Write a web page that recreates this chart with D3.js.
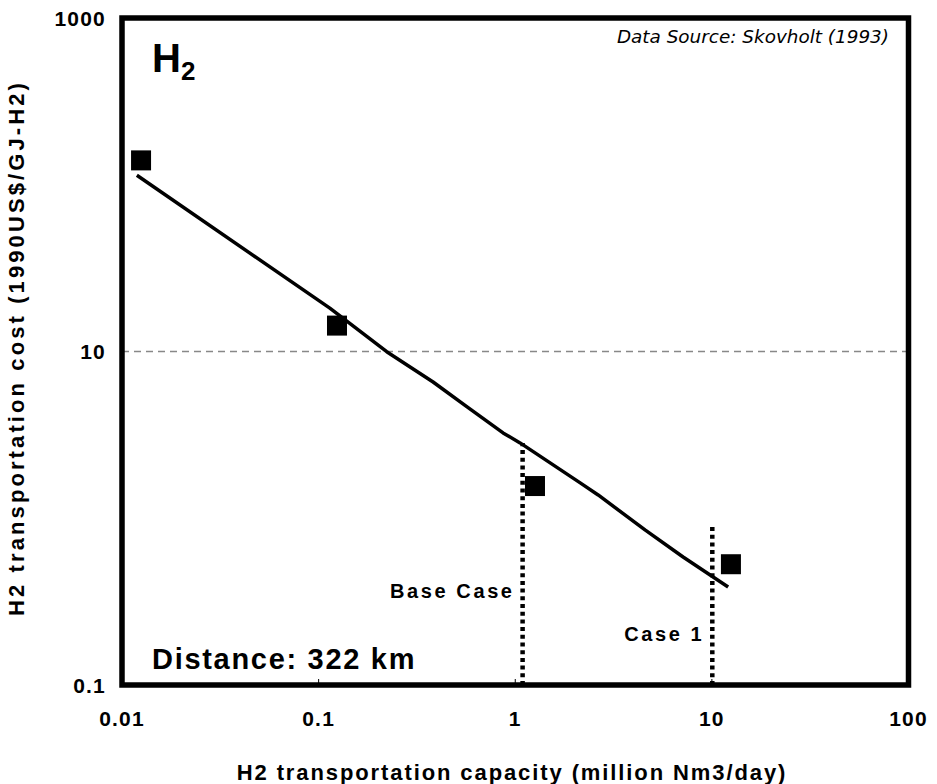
<!DOCTYPE html>
<html>
<head>
<meta charset="utf-8">
<script src="https://cdn.jsdelivr.net/npm/d3@7"></script>
<style>
  html, body { margin: 0; padding: 0; background: #fff; }
  svg text { font-family: "Liberation Sans", Arial, sans-serif; }
</style>
</head>
<body>
<svg id="chart" width="937" height="784"></svg>
<script>
// ── Data ────────────────────────────────────────────────────────────────
const pointCapacity = [0.0125, 0.124, 1.26, 12.5];      // million Nm3/day
const pointCost     = [140, 14.3, 1.56, 0.53];           // 1990US$/GJ-H2

const trendCapacity = [0.0119, 0.114, 0.222, 0.382, 0.569, 0.867, 1.058, 2.14, 2.64, 4.57, 7.14, 12.1];
const trendCost     = [114, 18.2, 9.97, 6.56, 4.65, 3.25, 2.83, 1.63, 1.38, 0.851, 0.586, 0.387];

const xTicks = [0.01, 0.1, 1, 10, 100];
const xTickLabels = ['0.01', '0.1', '1', '10', '100'];
const yTicks = [0.1, 10, 1000];
const yTickLabels = ['0.1', '10', '1000'];

const caseNames    = ['Base Case', 'Case 1'];
const caseCapacity = [1.09, 10.05];
const caseTopCost  = [2.83, 0.92];

// ── Layout ──────────────────────────────────────────────────────────────
const svg = d3.select('#chart');
const plot = { left: 122, right: 908.5, top: 18, bottom: 685 };

const x = d3.scaleLog().domain([0.01, 100]).range([plot.left, plot.right]);
const y = d3.scaleLog().domain([0.1, 1000]).range([plot.bottom, plot.top]);

// gridline at 10
svg.append('line')
  .attr('x1', plot.left).attr('x2', plot.right)
  .attr('y1', y(10)).attr('y2', y(10))
  .attr('stroke', '#888').attr('stroke-width', 1.3)
  .attr('stroke-dasharray', '7,5');

// small inside ticks
svg.append('g').selectAll('line')
  .data(xTicks.slice(1, -1))
  .join('line')
  .attr('x1', d => x(d)).attr('x2', d => x(d))
  .attr('y1', plot.bottom).attr('y2', plot.bottom - 6)
  .attr('stroke', '#000').attr('stroke-width', 1);

// case markers (dotted verticals)
svg.append('g').selectAll('line')
  .data(caseCapacity)
  .join('line')
  .attr('x1', d => x(d)).attr('x2', d => x(d))
  .attr('y1', plot.bottom)
  .attr('y2', (d, i) => y(caseTopCost[i]))
  .attr('stroke', '#000').attr('stroke-width', 4.5)
  .attr('stroke-dasharray', '4,3.7');

// trend line
const trend = trendCapacity.map((c, i) => [c, trendCost[i]]);
svg.append('path')
  .datum(trend)
  .attr('fill', 'none')
  .attr('stroke', '#000')
  .attr('stroke-width', 3.5)
  .attr('stroke-linejoin', 'round')
  .attr('d', d3.line().x(d => x(d[0])).y(d => y(d[1])));

// data squares
const SQ = 20;
svg.append('g').selectAll('rect')
  .data(pointCapacity.map((c, i) => [c, pointCost[i]]))
  .join('rect')
  .attr('x', d => x(d[0]) - SQ / 2)
  .attr('y', d => y(d[1]) - SQ / 2)
  .attr('width', SQ).attr('height', SQ)
  .attr('fill', '#000');

// frame
svg.append('rect')
  .attr('x', plot.left).attr('y', plot.top)
  .attr('width', plot.right - plot.left)
  .attr('height', plot.bottom - plot.top)
  .attr('fill', 'none')
  .attr('stroke', '#000').attr('stroke-width', 5.5);

// tick labels
svg.append('g').selectAll('text')
  .data(xTicks)
  .join('text')
  .attr('x', d => x(d))
  .attr('y', 726)
  .attr('text-anchor', 'middle')
  .attr('font-size', 21).attr('font-weight', 'bold')
  .attr('letter-spacing', 1.2)
  .text((d, i) => xTickLabels[i]);

svg.append('g').selectAll('text')
  .data(yTicks)
  .join('text')
  .attr('x', 106)
  .attr('y', d => y(d) + 7.5)
  .attr('text-anchor', 'end')
  .attr('font-size', 21).attr('font-weight', 'bold')
  .attr('letter-spacing', 1.2)
  .text((d, i) => yTickLabels[i]);

// axis titles
svg.append('text')
  .attr('x', 512).attr('y', 780)
  .attr('text-anchor', 'middle')
  .attr('font-size', 22).attr('font-weight', 'bold')
  .attr('letter-spacing', 1.9)
  .text('H2 transportation capacity (million Nm3/day)');

svg.append('text')
  .attr('transform', 'translate(24,348) rotate(-90)')
  .attr('text-anchor', 'middle')
  .attr('font-size', 22).attr('font-weight', 'bold')
  .attr('letter-spacing', 3.1)
  .text('H2 transportation cost (1990US$/GJ-H2)');

// annotations
const h2 = svg.append('text')
  .attr('x', 152).attr('y', 72)
  .attr('font-size', 40).attr('font-weight', 'bold');
h2.append('tspan').text('H');
h2.append('tspan').attr('font-size', 26).attr('dy', 8).text('2');

svg.append('text')
  .attr('x', 889).attr('y', 43)
  .attr('text-anchor', 'end')
  .style('font-family', '"DejaVu Sans", Verdana, sans-serif')
  .attr('font-size', 18.4).attr('font-style', 'italic')
  .text('Data Source: Skovholt (1993)');

svg.append('text')
  .attr('x', 152).attr('y', 669)
  .attr('font-size', 29).attr('font-weight', 'bold')
  .attr('letter-spacing', 1.7)
  .text('Distance: 322 km');

svg.append('g').selectAll('text')
  .data(caseNames)
  .join('text')
  .attr('x', (d, i) => x(caseCapacity[i]) - 8)
  .attr('y', (d, i) => [598, 641][i])
  .attr('text-anchor', 'end')
  .attr('font-size', 20).attr('font-weight', 'bold')
  .attr('letter-spacing', 2.6)
  .text(d => d);
</script>
</body>
</html>
